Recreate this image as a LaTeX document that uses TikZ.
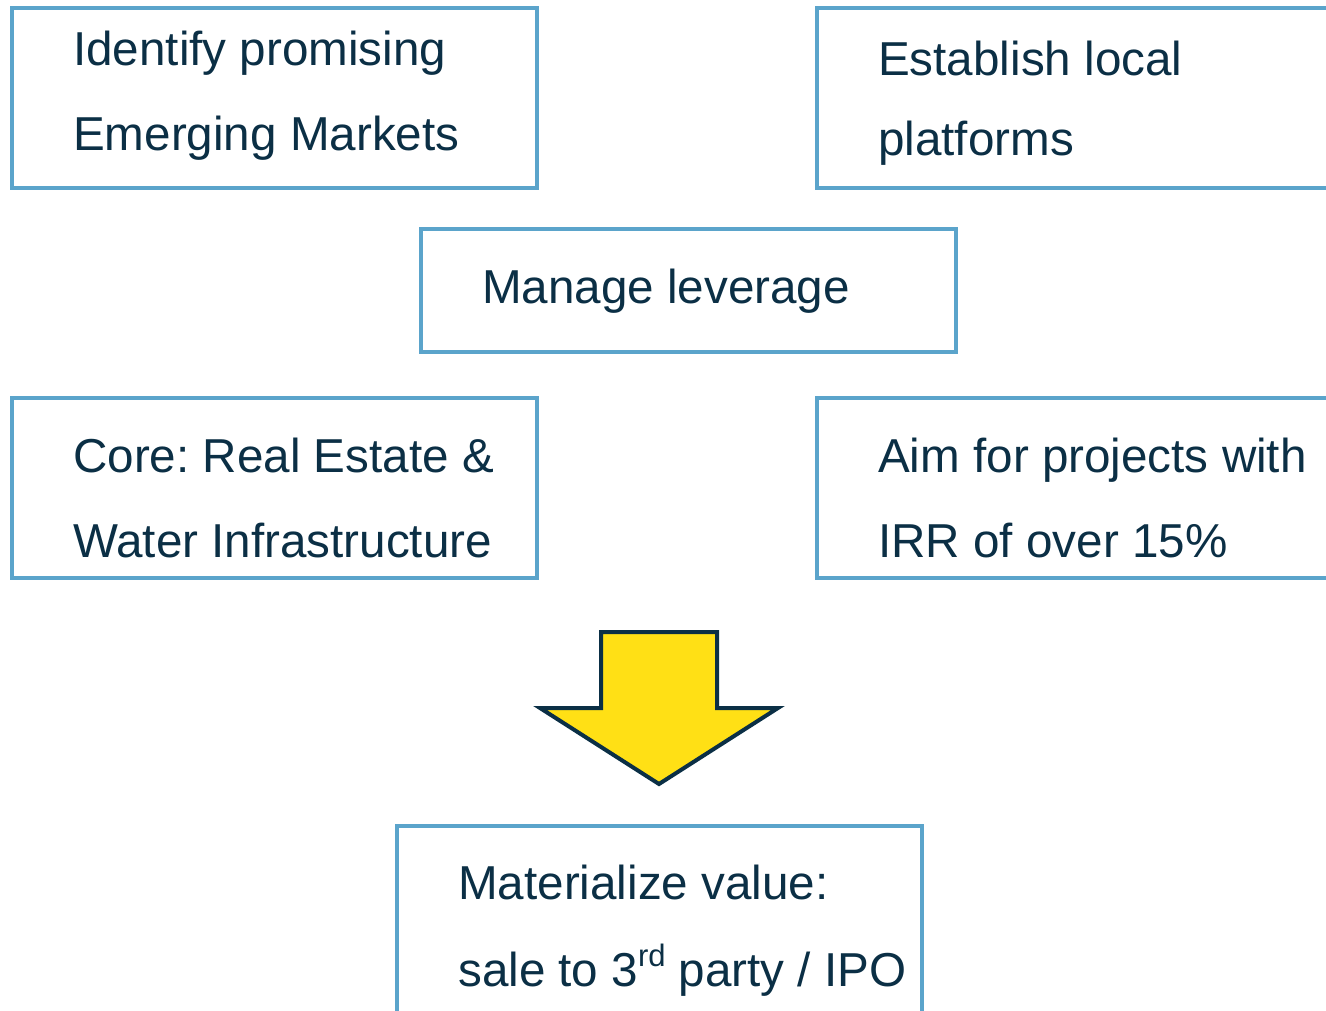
\documentclass[tikz,border=0pt]{standalone}
\usepackage{fontspec}
\setmainfont{Liberation Sans}
\frenchspacing
\definecolor{boxblue}{HTML}{5BA4CB}
\definecolor{inkblue}{HTML}{0B2F45}
\definecolor{arrowyellow}{HTML}{FFE015}
\newcommand{\supsc}[1]{\raisebox{0.4em}{\fontsize{31}{31}\selectfont #1}}
\begin{document}
\begin{tikzpicture}[x=1pt,y=-1pt,
  stepbox/.style={draw=boxblue,line width=3.2pt,fill=white},
  label/.style={anchor=base west,inner sep=0pt,text=inkblue,
    font=\fontsize{47.6}{56}\selectfont}]
\useasboundingbox (0,0) rectangle (1326,1011);
\clip (0,0) rectangle (1326,1011);

% boxes
\draw[stepbox] (12,8) rectangle (537,188);
\draw[stepbox] (817,8) rectangle (1340,188);
\draw[stepbox] (421,229) rectangle (956,352);
\draw[stepbox] (12,398) rectangle (537,578);
\draw[stepbox] (817,398) rectangle (1340,578);
\draw[stepbox] (397,826) rectangle (922,1030);

% texts
\node[label] (t1a) at (73,66) {Identify promising};
\node[label] (t1b) at (73,151) {Emerging Markets};
\node[label] (t2a) at (878,76) {Establish local};
\node[label] (t2b) at (878,156) {platforms};
\node[label] (t3)  at (482,303) {Manage leverage};
\node[label] (t4a) at (73,472) {Core: Real Estate \&};
\node[label] (t4b) at (73,557) {Water Infrastructure};
\node[label] (t5a) at (878,472) {Aim for projects with};
\node[label] (t5b) at (878,557) {IRR of over 15\%};
\node[label] (t6a) at (458,899) {Materialize value:};
\node[label] (t6b) at (458,986) {sale to 3\supsc{rd} party / IPO};

% block arrow
\draw[fill=arrowyellow,draw=inkblue,line width=4pt,line join=miter]
  (601,632) -- (717,632) -- (717,708) -- (778,708) -- (659,784)
  -- (540,708) -- (601,708) -- cycle;
\end{tikzpicture}
\end{document}
